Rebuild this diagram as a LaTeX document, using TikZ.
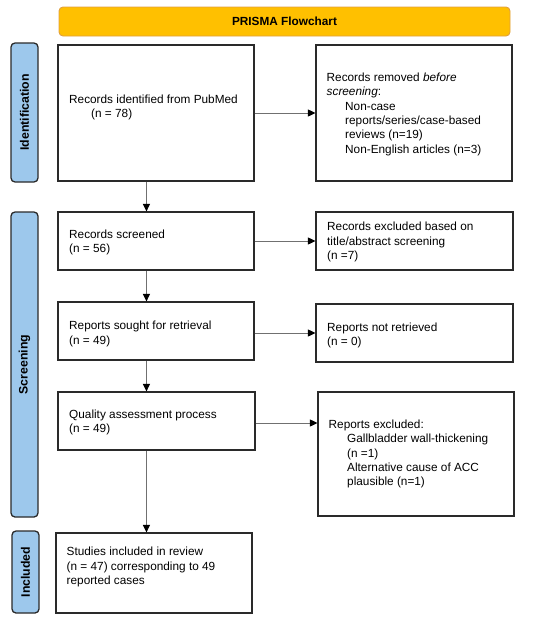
\documentclass[tikz,border=0pt]{standalone}
\usepackage{fontspec}
\setmainfont{Liberation Sans}
\usetikzlibrary{arrows.meta}
\definecolor{titlefill}{HTML}{FFC000}
\definecolor{titledraw}{HTML}{E0A040}
\definecolor{sidefill}{HTML}{9DC8EC}
\definecolor{boxdraw}{HTML}{2A2A2A}
\definecolor{arrowgray}{HTML}{707070}
\tikzset{
  box/.style={draw=boxdraw, line width=1.1pt, fill=white},
  sidebar/.style={draw=boxdraw, line width=1.3pt, fill=sidefill, rounded corners=4pt},
  titlebar/.style={draw=titledraw, line width=0.9pt, fill=titlefill, rounded corners=4pt},
  txt/.style={anchor=north west, inner sep=0pt, align=left, font=\fontsize{11.8}{14.4}\selectfont},
  sidetxt/.style={rotate=90, font=\fontsize{12.3}{14}\selectfont\bfseries, inner sep=0pt},
  flow/.style={draw=arrowgray, line width=0.9pt, -{Triangle[length=7.5pt,width=7pt,fill=black,color=black]}}
}
\begin{document}
\begin{tikzpicture}[x=1pt,y=-1pt]
\useasboundingbox (0,0) rectangle (550,621);
% title
\draw[titlebar] (59,7) rectangle (510,36);
\node[font=\fontsize{11.8}{14}\selectfont\bfseries, inner sep=0pt] (title) at (284.5,21.5) {PRISMA Flowchart};
% side bars
\draw[sidebar] (11,43) rectangle (38,182);
\node[sidetxt] (sid) at (24.5,112.5) {Identification};
\draw[sidebar] (11,212) rectangle (38,517);
\node[sidetxt] (sscr) at (24.5,364.5) {Screening};
\draw[sidebar] (12,531) rectangle (39,613);
\node[sidetxt] (sinc) at (25.5,572) {Included};
% left boxes
\node[box, minimum width=196pt, minimum height=136pt, inner sep=0pt] (b1) at (156,113) {};
\node[box, minimum width=196pt, minimum height=58pt, inner sep=0pt] (b2) at (156,241) {};
\node[box, minimum width=196pt, minimum height=58pt, inner sep=0pt] (b3) at (156,331) {};
\node[box, minimum width=197pt, minimum height=58pt, inner sep=0pt] (b4) at (156.5,421) {};
\node[box, minimum width=196pt, minimum height=80pt, inner sep=0pt] (b5) at (154,573) {};
% right boxes
\node[box, minimum width=196pt, minimum height=136pt, inner sep=0pt] (r1) at (414,113) {};
\node[box, minimum width=197pt, minimum height=58pt, inner sep=0pt] (r2) at (414.5,241) {};
\node[box, minimum width=197pt, minimum height=58pt, inner sep=0pt] (r3) at (414.5,333) {};
\node[box, minimum width=196pt, minimum height=124pt, inner sep=0pt] (r4) at (416,454) {};
% texts
\node[txt] (t1) at (69,94.5) {Records identified from PubMed\\\hspace*{22pt}(n = 78)};
\node[txt] (t2) at (69,229.5) {Records screened\\(n = 56)};
\node[txt] (t3) at (69,321) {Reports sought for retrieval\\(n = 49)};
\node[txt] (t4) at (69,409.5) {Quality assessment process\\(n = 49)};
\node[txt] (t5) at (66.5,547) {Studies included in review\\(n = 47) corresponding to 49\\reported cases};
\node[txt] (u1) at (326.5,72.5) {Records removed \textit{before}\\\textit{screening}:\\\hspace*{18.5pt}Non-case\\\hspace*{18.5pt}reports/series/case-based\\\hspace*{18.5pt}reviews (n=19)\\\hspace*{18.5pt}Non-English articles (n=3)};
\node[txt] (u2) at (327,222) {Records excluded based on\\title/abstract screening\\(n =7)};
\node[txt] (u3) at (327,322.5) {Reports not retrieved\\(n = 0)};
\node[txt] (u4) at (328.5,419.5) {Reports excluded:\\\hspace*{18.5pt}Gallbladder wall-thickening\\\hspace*{18.5pt}(n =1)\\\hspace*{18.5pt}Alternative cause of ACC\\\hspace*{18.5pt}plausible (n=1)};
% horizontal arrows
\draw[flow] (b1.east) -- (r1.west);
\draw[flow] (b2.east) -- (r2.west);
\draw[flow] (b3.east |- r3.west) -- (r3.west);
\draw[flow] (b4.east |- 0,423) -- (r4.west |- 0,423);
% vertical arrows
\draw[flow] ([xshift=89pt]b1.south west) -- ([xshift=89pt]b2.north west);
\draw[flow] ([xshift=89pt]b2.south west) -- ([xshift=89pt]b3.north west);
\draw[flow] ([xshift=89pt]b3.south west) -- ([xshift=89pt]b4.north west);
\draw[flow] ([xshift=89pt]b4.south west) -- ([xshift=91pt]b5.north west);
\end{tikzpicture}
\end{document}
